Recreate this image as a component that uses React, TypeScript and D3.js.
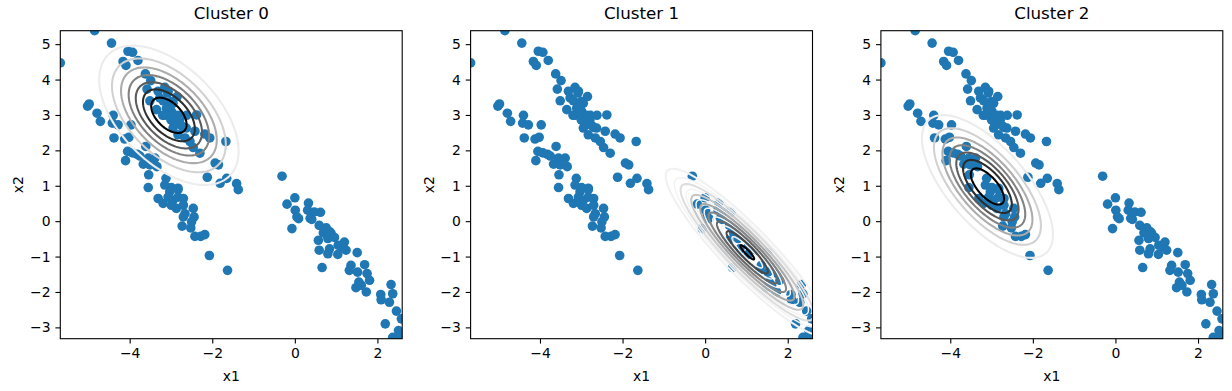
import { useEffect, useRef } from "react";
import * as d3 from "d3";

const panelTitles = ["Cluster 0", "Cluster 1", "Cluster 2"];
const xTicks = [-4, -2, 0, 2];
const yTicks = [-3, -2, -1, 0, 1, 2, 3, 4, 5];
const xLimits: [number, number] = [-5.68, 2.6];
const yLimits: [number, number] = [-3.32, 5.38];

// scatter points [x1, x2]
const upperBand: [number, number][] = [
  [-4.85, 5.38], [-5.68, 4.47], [-4.44, 5.03], [-4.04, 4.8], [-3.93, 4.77], [-4.16, 4.51],
  [-4.09, 4.4], [-3.8, 4.54], [-3.62, 4.16], [-3.49, 3.97], [-3.58, 3.73], [-3.31, 3.67],
  [-3.15, 3.78], [-3.07, 3.67], [-3.51, 3.4], [-3.27, 3.48], [-3.19, 3.4], [-2.85, 3.52],
  [-2.95, 3.33], [-3.35, 3.15], [-3.11, 3.19], [-2.99, 3.1], [-3.15, 2.99], [-2.78, 2.99],
  [-2.62, 2.99], [-2.38, 3.0], [-2.95, 2.82], [-2.85, 2.85], [-2.95, 2.63], [-2.7, 2.65],
  [-2.42, 2.54], [-2.83, 2.44], [-2.66, 2.35], [-2.54, 2.25], [-2.18, 2.46], [-2.06, 2.35],
  [-2.46, 2.08], [-2.3, 1.92], [-1.67, 2.25], [-1.93, 1.64], [-1.85, 1.59], [-2.12, 1.24],
  [-1.81, 1.07], [-1.65, 1.21], [-1.41, 1.06], [-1.37, 0.89],
  [-3.08, 3.62], [-3.0, 3.38], [-3.04, 3.24], [-3.2, 2.99], [-2.87, 2.99], [-3.0, 2.86],
  [-2.79, 2.86], [-2.63, 2.63], [-2.75, 2.7],
];

const middleBand: [number, number][] = [
  [-4.98, 3.31], [-5.02, 3.25], [-4.79, 3.05], [-4.71, 2.82], [-4.4, 2.99], [-4.42, 2.77],
  [-4.28, 2.72], [-3.97, 2.72], [-4.38, 2.35], [-4.12, 2.32], [-4.02, 2.37], [-4.05, 1.97],
  [-3.82, 1.89], [-3.93, 1.93], [-3.61, 2.11], [-4.1, 1.71], [-3.67, 1.61], [-3.55, 1.78],
  [-3.39, 1.78], [-3.51, 1.59], [-3.34, 1.54], [-3.75, 1.84], [-3.54, 1.31], [-3.12, 1.21],
  [-3.55, 0.95], [-3.15, 1.02], [-2.99, 0.95], [-2.83, 0.93], [-3.03, 0.83], [-2.83, 0.89],
  [-3.31, 0.64], [-3.19, 0.5], [-3.07, 0.68], [-2.95, 0.59], [-2.83, 0.68], [-2.7, 0.64],
  [-2.99, 0.45], [-2.87, 0.36], [-2.7, 0.45], [-2.66, 0.21], [-2.46, 0.36], [-2.44, 0.12],
  [-2.7, 0.12], [-2.5, -0.02], [-2.73, -0.14], [-2.52, -0.19], [-2.42, -0.43], [-2.28, -0.43],
  [-2.18, -0.38], [-2.07, -0.97], [-1.63, -1.39],
];

const lowerBand: [number, number][] = [
  [-0.31, 1.27], [0.0, 0.66], [-0.19, 0.48], [0.01, 0.31], [0.09, 0.07], [-0.07, -0.21],
  [0.33, 0.51], [0.31, 0.31], [0.47, 0.26], [0.62, 0.25], [0.41, 0.05], [0.59, -0.12],
  [0.76, -0.19], [0.69, -0.33], [0.88, -0.35], [0.57, -0.54], [0.8, -0.49], [0.96, -0.46],
  [0.59, -0.82], [0.84, -0.78], [1.04, -0.94], [1.2, -0.59], [1.24, -0.82], [1.51, -0.89],
  [0.66, -1.31], [1.36, -1.25], [1.32, -1.39], [1.52, -1.44], [1.69, -1.23], [1.75, -1.48],
  [1.81, -1.67], [1.55, -1.72], [1.48, -1.88], [1.73, -2.0], [1.61, -1.81], [2.08, -2.07],
  [2.09, -2.22], [2.29, -2.29], [2.33, -1.79], [2.37, -2.05], [2.46, -2.54], [2.58, -2.76],
  [2.19, -2.9], [2.51, -3.09], [2.37, -3.28], [2.54, -3.23], [1.16, -0.73], [0.8, -0.92],
  [0.05, 0.12], [0.85, -0.3], [1.05, -0.68], [0.37, 0.08],
];

// gaussian component of each panel
const componentMeans: [number, number][] = [[-3.05, 2.99], [1.02, -0.88], [-3.1, 0.98]];
const componentCovs: [number, number, number][] = [
  // [var x1, cov, var x2]
  [0.685, -0.411, 0.931],
  [0.938, -1.023, 1.341],
  [0.605, -0.518, 0.978],
];
// contour levels as fraction of the peak density
const contourLevels: number[][] = [
  [0.125, 0.25, 0.375, 0.5, 0.625, 0.75, 0.875],
  [0.125, 0.25, 0.375, 0.5, 0.625, 0.75, 0.875, 0.985],
  [0.125, 0.25, 0.375, 0.5, 0.625, 0.75, 0.875],
];
const faintLevels: number[][] = [[], [0.19, 0.31, 0.44, 0.56, 0.69, 0.81, 0.93], []];

const W = 1232;
const H = 391;
const axW = 341.9;
const axH = 308;
const axTop = 30.7;
const axLefts = [60.3, 470.6, 880.9];
const font = "DejaVu Sans, sans-serif";

export default function App() {
  const ref = useRef<SVGSVGElement>(null);

  useEffect(() => {
    if (!ref.current) return;
    const svg = d3.select(ref.current);
    svg.selectAll("*").remove();

    const x = d3.scaleLinear().domain(xLimits).range([0, axW]);
    const y = d3.scaleLinear().domain(yLimits).range([axH, 0]);
    const points = [...upperBand, ...middleBand, ...lowerBand];
    const line = d3
      .line<[number, number]>()
      .x((d) => x(d[0]))
      .y((d) => y(d[1]))
      .curve(d3.curveLinearClosed);
    const angles = d3.range(0, 360, 2).map((t) => (t * Math.PI) / 180);

    panelTitles.forEach((title, k) => {
      const g = svg.append("g").attr("transform", `translate(${axLefts[k]},${axTop})`);
      const clipId = `clip-${k}`;
      g.append("clipPath").attr("id", clipId).append("rect").attr("width", axW).attr("height", axH);
      const plot = g.append("g").attr("clip-path", `url(#${clipId})`);

      plot
        .selectAll("circle")
        .data(points)
        .join("circle")
        .attr("cx", (d) => x(d[0]))
        .attr("cy", (d) => y(d[1]))
        .attr("r", 4.8)
        .attr("fill", "#1f77b4");

      const [mx, my] = componentMeans[k];
      const [a, b, c] = componentCovs[k];
      const l11 = Math.sqrt(a);
      const l21 = b / l11;
      const l22 = Math.sqrt(c - l21 * l21);
      const ring = (level: number) => {
        const r = Math.sqrt(-2 * Math.log(level));
        return angles.map(
          (t) => [mx + r * l11 * Math.cos(t), my + r * (l21 * Math.cos(t) + l22 * Math.sin(t))] as [number, number]
        );
      };

      plot
        .selectAll("path.faint")
        .data(faintLevels[k])
        .join("path")
        .attr("class", "faint")
        .attr("d", (lv) => line(ring(lv)))
        .attr("fill", "none")
        .attr("stroke", "#f3f3f3")
        .attr("stroke-width", 1.5);

      const n = contourLevels[k].length;
      const shade = (i: number) =>
        k === 1 ? (i === n - 1 ? 1 : (i + 1) / (n + 1)) : (i + 1) / n;
      plot
        .selectAll("path.level")
        .data(contourLevels[k])
        .join("path")
        .attr("class", "level")
        .attr("d", (lv) => line(ring(lv)))
        .attr("fill", "none")
        .attr("stroke", (_lv, i) => d3.interpolateGreys(shade(i)))
        .attr("stroke-width", 2.08);

      const xAxis = g
        .append("g")
        .attr("transform", `translate(0,${axH})`)
        .call(d3.axisBottom(x).tickValues(xTicks).tickSize(4.9).tickPadding(4.9).tickFormat(d3.format("d")));
      const yAxis = g
        .append("g")
        .call(d3.axisLeft(y).tickValues(yTicks).tickSize(4.9).tickPadding(4.9).tickFormat(d3.format("d")));
      [xAxis, yAxis].forEach((ax) => {
        ax.select(".domain").remove();
        ax.attr("font-family", font).attr("font-size", 13.9);
        ax.selectAll(".tick line").attr("stroke", "#000").attr("stroke-width", 1.1);
        ax.selectAll(".tick text").attr("fill", "#000");
      });

      g.append("rect")
        .attr("width", axW)
        .attr("height", axH)
        .attr("fill", "none")
        .attr("stroke", "#000")
        .attr("stroke-width", 1.1);

      g.append("text")
        .attr("x", axW / 2)
        .attr("y", -12.2)
        .attr("text-anchor", "middle")
        .attr("font-family", font)
        .attr("font-size", 16.7)
        .text(title);

      g.append("text")
        .attr("x", axW / 2)
        .attr("y", axH + 42)
        .attr("text-anchor", "middle")
        .attr("font-family", font)
        .attr("font-size", 13.9)
        .text("x1");

      g.append("text")
        .attr("transform", `translate(-37,${axH / 2}) rotate(-90)`)
        .attr("text-anchor", "middle")
        .attr("font-family", font)
        .attr("font-size", 13.9)
        .text("x2");
    });
  }, []);

  return (
    <svg
      ref={ref}
      width={W}
      height={H}
      style={{ position: "absolute", left: 0, top: 0, background: "#fff" }}
    />
  );
}
